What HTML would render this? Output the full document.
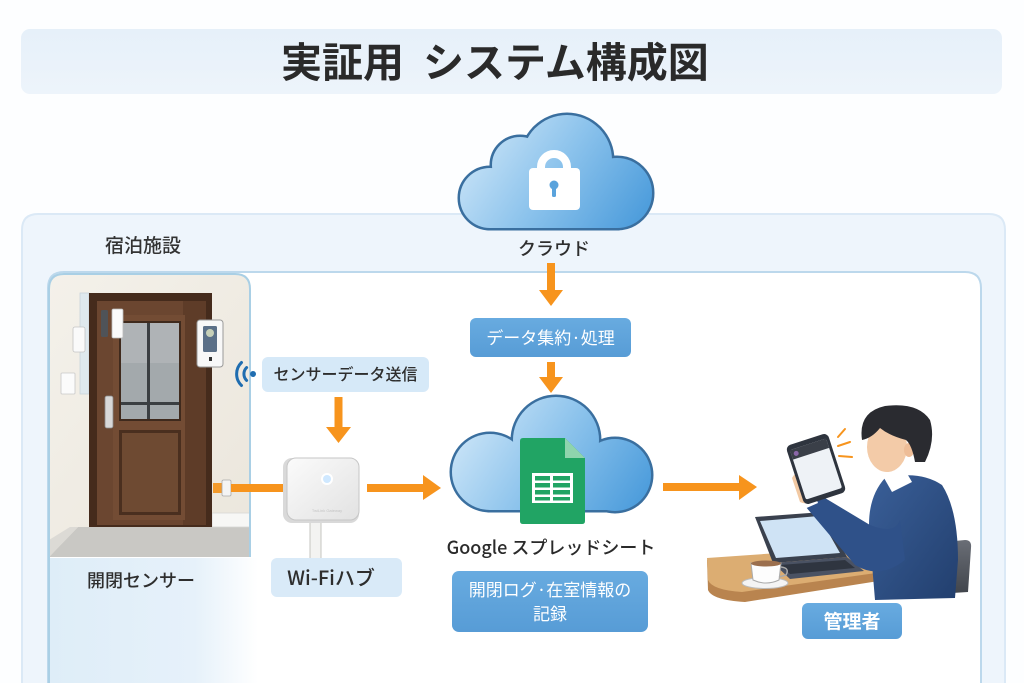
<!DOCTYPE html>
<html><head><meta charset="utf-8">
<style>
html,body{margin:0;padding:0;background:#fdfeff;}
body{width:1024px;height:683px;overflow:hidden;}
svg{display:block;}
text{font-family:"Liberation Sans","Noto Sans CJK JP",sans-serif;}
.cjk{font-family:"Noto Sans CJK JP","Liberation Sans",sans-serif;}
</style></head>
<body>
<svg width="1024" height="683" viewBox="0 0 1024 683" xmlns="http://www.w3.org/2000/svg">
<defs>
  <linearGradient id="titleg" x1="0" y1="0" x2="0" y2="1">
    <stop offset="0" stop-color="#e6f0f9"/><stop offset="1" stop-color="#edf4fb"/>
  </linearGradient>
  <linearGradient id="cloudg1" gradientUnits="userSpaceOnUse" x1="470" y1="115" x2="640" y2="230">
    <stop offset="0" stop-color="#d3e9f9"/><stop offset="0.5" stop-color="#8cc3ec"/><stop offset="1" stop-color="#4a9bdb"/>
  </linearGradient>
  <linearGradient id="cloudg2" gradientUnits="userSpaceOnUse" x1="465" y1="397" x2="640" y2="512">
    <stop offset="0" stop-color="#d3e9f9"/><stop offset="0.5" stop-color="#8cc3ec"/><stop offset="1" stop-color="#4a9bdb"/>
  </linearGradient>
  <linearGradient id="blueBox" x1="0" y1="0" x2="0" y2="1">
    <stop offset="0" stop-color="#68abe0"/><stop offset="1" stop-color="#579cd6"/>
  </linearGradient>
  <linearGradient id="lowerFade" x1="0" y1="0" x2="1" y2="0">
    <stop offset="0" stop-color="#deedf8"/><stop offset="0.7" stop-color="#e6f1fa"/><stop offset="1" stop-color="#ffffff"/>
  </linearGradient>
  <linearGradient id="hubg" x1="0" y1="0" x2="1" y2="1">
    <stop offset="0" stop-color="#fbfbfb"/><stop offset="1" stop-color="#e2e2e2"/>
  </linearGradient>
  <linearGradient id="wallg" x1="0" y1="0" x2="1" y2="1">
    <stop offset="0" stop-color="#f4f1ea"/><stop offset="1" stop-color="#ebe6dc"/>
  </linearGradient>
  <linearGradient id="suitg" x1="0" y1="0" x2="1" y2="1">
    <stop offset="0" stop-color="#3a5f98"/><stop offset="1" stop-color="#223f6e"/>
  </linearGradient>
  <linearGradient id="chairg" x1="0" y1="0" x2="0" y2="1">
    <stop offset="0" stop-color="#6a6e76"/><stop offset="1" stop-color="#3f434a"/>
  </linearGradient>
  <clipPath id="doorclip">
    <path d="M49 557 L49 289 Q49 274 64 274 L235 274 Q250 274 250 289 L250 557 Z"/>
  </clipPath>
</defs>

<!-- Title bar -->
<rect x="21" y="29" width="981" height="65" rx="9" fill="url(#titleg)"/>
<text class="cjk" x="281" y="77" font-size="41" font-weight="bold" fill="#2a2a2a">実証用</text>
<text class="cjk" x="423" y="77" font-size="41" font-weight="bold" fill="#2a2a2a">システム構成図</text>

<!-- Outer container (open at bottom) -->
<path d="M22 683 L22 230 Q22 214 38 214 L989 214 Q1005 214 1005 230 L1005 683" fill="#eef5fc" stroke="#dbe9f6" stroke-width="2"/>
<!-- Inner white panel (open at bottom) -->
<path d="M48 683 L48 288 Q48 272 64 272 L965 272 Q981 272 981 288 L981 683" fill="#ffffff" stroke="#bcd8ec" stroke-width="2"/>

<!-- Top cloud -->
<g stroke="#3a6f9f" stroke-width="5">
  <circle cx="490" cy="198" r="30"/><circle cx="520" cy="165" r="28"/><circle cx="567" cy="160" r="45"/><circle cx="617" cy="193" r="35"/>
  <rect x="490" y="180" width="127" height="48"/>
</g>
<g fill="url(#cloudg1)">
  <circle cx="490" cy="198" r="30"/><circle cx="520" cy="165" r="28"/><circle cx="567" cy="160" r="45"/><circle cx="617" cy="193" r="35"/>
  <rect x="490" y="180" width="127" height="48"/>
</g>
<!-- lock -->
<path d="M541 172 L541 167 A13 13 0 0 1 567 167 L567 172" fill="none" stroke="#ffffff" stroke-width="8"/>
<rect x="529" y="168" width="51" height="42" rx="4" fill="#ffffff"/>
<circle cx="554" cy="185" r="4.5" fill="#5aa3dc"/>
<rect x="552" y="185" width="4" height="12" rx="1.5" fill="#5aa3dc"/>

<text class="cjk" x="554" y="255" font-size="18" fill="#2e2e2e" text-anchor="middle" font-weight="500">クラウド</text>
<text class="cjk" x="105" y="252" font-size="19" fill="#333" font-weight="500">宿泊施設</text>

<!-- Door panel -->
<g clip-path="url(#doorclip)">
  <rect x="49" y="274" width="202" height="284" fill="url(#wallg)"/>
  <polygon points="49,557 78,527 250,527 250,557" fill="#c9c8c4"/>
  <polygon points="49,557 49,540 70,527 78,527" fill="#dcdad5"/>
  <rect x="212" y="513" width="40" height="14" fill="#f7f7f5" stroke="#d8d8d4" stroke-width="0.8"/>
  <rect x="80" y="293" width="9" height="101" fill="#dfe9ee" stroke="#c8d4da" stroke-width="0.8"/>
  <rect x="89" y="293" width="123" height="234" fill="#452b1c"/>
  <rect x="97" y="301" width="109" height="224" fill="#6b4630"/>
  <rect x="183" y="301" width="23" height="224" fill="#5e3c28"/>
  <rect x="113" y="315" width="72" height="205" fill="#734c34"/>
  <rect x="119" y="321" width="62" height="100" fill="#3f2a1d"/>
  <rect x="121" y="323" width="58" height="96" fill="#a3a9ac"/>
  <rect x="121" y="323" width="58" height="40" fill="#b3b8ba" opacity="0.7"/>
  <rect x="147" y="323" width="3" height="96" fill="#3b3f42"/>
  <rect x="121" y="402" width="58" height="3" fill="#3b3f42"/>
  <rect x="119" y="430" width="62" height="85" fill="#4a2f1f"/>
  <rect x="122" y="433" width="56" height="79" fill="#6e4a32"/>
  <rect x="105" y="396" width="8" height="32" rx="2" fill="#d8d8d8" stroke="#8a8a8a" stroke-width="0.8"/>
  <rect x="101" y="310" width="7" height="27" rx="1.5" fill="#4f5358"/>
  <rect x="112" y="309" width="11" height="29" rx="1.5" fill="#fafafa" stroke="#bbb" stroke-width="0.8"/>
  <rect x="73" y="327" width="12" height="25" rx="2" fill="#fafafa" stroke="#c4c4c4" stroke-width="0.8"/>
  <rect x="61" y="373" width="14" height="21" rx="1" fill="#fbfbfb" stroke="#c8c8c8" stroke-width="0.8"/>
  <rect x="197" y="320" width="26" height="47" rx="3" fill="#f8f8f8" stroke="#9a9a9a" stroke-width="1"/>
  <rect x="203" y="326" width="14" height="26" rx="1.5" fill="#5b7088"/>
  <circle cx="210" cy="333" r="4" fill="#c7d0b8"/>
  <rect x="209" y="357" width="3" height="4" fill="#333"/>
  <rect x="213" y="483" width="10" height="10" fill="#f39a2c"/>
  <rect x="222" y="480" width="9" height="16" rx="1.5" fill="#f4f4f4" stroke="#aaa" stroke-width="0.8"/>
</g>
<path d="M49 557 L49 289 Q49 274 64 274 L235 274 Q250 274 250 289 L250 557" fill="none" stroke="#a9cfe5" stroke-width="2"/>
<rect x="48" y="558" width="210" height="125" fill="url(#lowerFade)"/>
<line x1="49" y1="557" x2="49" y2="683" stroke="#a9cfe5" stroke-width="2"/>

<text class="cjk" x="87" y="587" font-size="18" fill="#2e2e2e" font-weight="500">開閉センサー</text>

<!-- wifi icon -->
<circle cx="253" cy="374" r="3" fill="#1f6db0"/>
<path d="M246.6 367.6 A9 9 0 0 0 246.6 380.4" fill="none" stroke="#1f6db0" stroke-width="3" stroke-linecap="round"/>
<path d="M241.5 362.5 A16 16 0 0 0 241.5 385.5" fill="none" stroke="#1f6db0" stroke-width="3" stroke-linecap="round"/>

<!-- Sensor data box -->
<rect x="262" y="357" width="167" height="35" rx="6" fill="#d6e9f8"/>
<text class="cjk" x="345.5" y="380" font-size="16" fill="#2e2e2e" text-anchor="middle" font-weight="500">センサーデータ送信</text>

<!-- arrow down to hub -->
<rect x="334.5" y="397" width="8" height="31" fill="#f7941d"/>
<polygon points="326,427 351,427 338.5,443" fill="#f7941d"/>

<!-- orange line door -> hub -->
<rect x="231" y="484" width="53" height="8" fill="#f7941d"/>

<!-- hub cable -->
<rect x="310" y="520" width="11" height="40" fill="#f3f3f1" stroke="#c4c4c0" stroke-width="1"/>
<!-- hub -->
<rect x="283" y="458" width="76" height="65" rx="9" fill="#d9d9d9"/>
<rect x="287" y="458" width="72" height="62" rx="9" fill="url(#hubg)" stroke="#c6c6c6" stroke-width="1"/>
<circle cx="327" cy="479" r="6" fill="#ffffff"/>
<circle cx="327" cy="479" r="4" fill="#cfe8ff"/>
<text x="327" y="512" font-size="4" fill="#c4c4c4" text-anchor="middle">TwiLink Gateway</text>

<!-- arrow hub -> cloud -->
<rect x="367" y="484" width="58" height="8" fill="#f7941d"/>
<polygon points="423,475 441,488 423,500" fill="#f7941d"/>

<!-- Wi-Fi hub label -->
<rect x="271" y="558" width="131" height="39" rx="6" fill="#d9eaf8"/>
<text class="cjk" x="331" y="585" font-size="20" fill="#2e2e2e" text-anchor="middle" font-weight="500">Wi-Fiハブ</text>

<!-- cloud -> process arrow -->
<rect x="547" y="263" width="8" height="28" fill="#f7941d"/>
<polygon points="539,290 563,290 551,306" fill="#f7941d"/>

<!-- data process box -->
<rect x="470" y="318" width="161" height="39" rx="6" fill="url(#blueBox)"/>
<text class="cjk" x="550.5" y="344" font-size="17" fill="#ffffff" text-anchor="middle">データ集約·処理</text>

<!-- arrow -->
<rect x="547" y="362" width="8" height="17" fill="#f7941d"/>
<polygon points="539,377 563,377 551,393" fill="#f7941d"/>

<!-- Google cloud -->
<g stroke="#3a6f9f" stroke-width="5">
  <circle cx="490" cy="472" r="38"/><circle cx="556" cy="440" r="43"/><circle cx="615" cy="475" r="36"/>
  <rect x="490" y="455" width="125" height="55"/>
</g>
<g fill="url(#cloudg2)">
  <circle cx="490" cy="472" r="38"/><circle cx="556" cy="440" r="43"/><circle cx="615" cy="475" r="36"/>
  <rect x="490" y="455" width="125" height="55"/>
</g>
<!-- sheets icon -->
<path d="M523 438 L565 438 L585 458 L585 521 Q585 524 582 524 L523 524 Q520 524 520 521 L520 441 Q520 438 523 438 Z" fill="#21a464"/>
<path d="M565 438 L585 458 L565 458 Z" fill="#8fd4ad"/>
<rect x="532" y="473" width="41" height="30" fill="#ffffff"/>
<g fill="#21a464">
  <rect x="535" y="476" width="15" height="4.5"/><rect x="553" y="476" width="17" height="4.5"/>
  <rect x="535" y="483" width="15" height="4.5"/><rect x="553" y="483" width="17" height="4.5"/>
  <rect x="535" y="490" width="15" height="4.5"/><rect x="553" y="490" width="17" height="4.5"/>
  <rect x="535" y="497" width="15" height="3.5"/><rect x="553" y="497" width="17" height="3.5"/>
</g>

<text class="cjk" x="551" y="554" font-size="18" fill="#2a2a2a" text-anchor="middle" font-weight="500">Google スプレッドシート</text>

<!-- log box -->
<rect x="452" y="571" width="196" height="61" rx="7" fill="url(#blueBox)"/>
<text class="cjk" x="550" y="596" font-size="17" fill="#ffffff" text-anchor="middle">開閉ログ·在室情報の</text>
<text class="cjk" x="550" y="620" font-size="17" fill="#ffffff" text-anchor="middle">記録</text>

<!-- arrow cloud -> admin -->
<rect x="663" y="483" width="78" height="8" fill="#f7941d"/>
<polygon points="739,475 757,487 739,500" fill="#f7941d"/>

<!-- Admin illustration -->
<path d="M915 545 L965 540 Q972 540 971 548 L968 592 L905 596 Z" fill="url(#chairg)"/>
<path d="M707 560 L880 548 L885 580 L745 602 Q712 600 708 590 Z" fill="#b9844f"/>
<path d="M707 558 L880 546 L883 572 L742 592 Q712 590 708 580 Z" fill="#dcad72"/>
<polygon points="755,517 823,512 847,557 773,563" fill="#3a414e"/>
<polygon points="760,521 819,516 840,553 776,558" fill="#cfe3f5"/>
<polygon points="773,563 847,557 864,571 790,579" fill="#4a5263"/>
<polygon points="780,565 845,560 855,568 790,574" fill="#2f3540"/>
<ellipse cx="765" cy="583" rx="23" ry="5.5" fill="#f4f4f4" stroke="#bbb" stroke-width="1"/>
<path d="M751 563 L781 563 L779 580 Q766 586 753 580 Z" fill="#fdfdfd" stroke="#aaa" stroke-width="1"/>
<ellipse cx="766" cy="563.5" rx="15" ry="3" fill="#9b6f4e"/>
<path d="M781 567 Q790 568 786 575 L779 577" fill="none" stroke="#aaa" stroke-width="1.5"/>
<path d="M885 478 Q920 470 942 485 Q958 510 958 560 L955 598 L875 600 L870 540 Q865 500 885 478 Z" fill="url(#suitg)"/>
<path d="M800 500 L815 492 L870 525 Q895 535 900 520 L905 560 Q880 580 855 565 Z" fill="#2f5189"/>
<path d="M884 478 L905 470 L912 482 L892 492 Z" fill="#ffffff"/>
<polygon points="797,498 813,490 818,503 802,510" fill="#ffffff"/>
<path d="M792 478 Q796 470 806 474 L815 498 Q808 506 800 502 Z" fill="#f2c9a3"/>
<g transform="rotate(-18 816 469)">
  <rect x="794" y="438" width="44" height="62" rx="5" fill="#2e343e"/>
  <rect x="797" y="443" width="38" height="52" rx="2" fill="#eef2f6"/>
  <rect x="797" y="443" width="38" height="10" fill="#3a3f48"/>
  <circle cx="802" cy="448" r="2.5" fill="#8a66a8"/>
</g>
<ellipse cx="887" cy="447" rx="20" ry="25" fill="#f3cba8"/>
<ellipse cx="909" cy="450" rx="5" ry="7" fill="#eebd97"/>
<path d="M862 440 Q858 412 885 406 Q918 402 930 420 Q936 440 925 462 L915 462 Q912 445 906 440 Q890 436 880 428 Q872 438 862 440 Z" fill="#2a2b30"/>
<g stroke="#f7941d" stroke-width="2" stroke-linecap="round">
  <line x1="838" y1="437" x2="845" y2="429"/>
  <line x1="838" y1="446" x2="850" y2="442"/>
  <line x1="839" y1="456" x2="852" y2="457"/>
</g>

<!-- admin label -->
<rect x="802" y="603" width="100" height="36" rx="6" fill="url(#blueBox)"/>
<text class="cjk" x="852" y="628" font-size="19" fill="#ffffff" text-anchor="middle" font-weight="bold">管理者</text>
</svg>
</body></html>
